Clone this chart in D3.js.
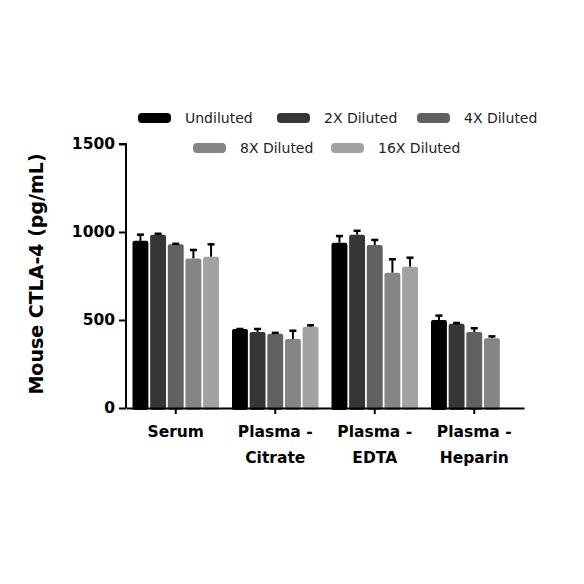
<!DOCTYPE html>
<html>
<head>
<meta charset="utf-8">
<script src="https://cdn.jsdelivr.net/npm/d3@7"></script>
<style>
  body { margin: 0; background: #fff; }
  text { font-family: "DejaVu Sans", sans-serif; }
</style>
</head>
<body>
<script>
// chart size
var width = 584;
var height = 584;

// data
var categories = ["Serum", "Plasma - Citrate", "Plasma - EDTA", "Plasma - Heparin"];
var series = ["Undiluted", "2X Diluted", "4X Diluted", "8X Diluted", "16X Diluted"];
var colors = ["#000000", "#363636", "#616161", "#858585", "#a2a2a2"];
// mean values per category, one array per series (null = no bar)
var undiluted = [950, 449, 939, 500];
var diluted2x = [985, 432, 985, 479];
var diluted4x = [930, 422, 926, 432];
var diluted8x = [850, 392, 769, 396];
var diluted16x = [860, 462, 803, null];
// top of error bar per category
var err_undiluted = [985, 449, 977, 525];
var err_2x = [990, 449, 1007, 483];
var err_4x = [933, 427, 955, 453];
var err_8x = [898, 439, 845, 407];
var err_16x = [930, 470, 854, null];
var yTicks = [0, 500, 1000, 1500];

var values = [undiluted, diluted2x, diluted4x, diluted8x, diluted16x];
var errors = [err_undiluted, err_2x, err_4x, err_8x, err_16x];

var rows = [];
series.forEach(function(s, i) {
	categories.forEach(function(c, j) {
		if (values[i][j] != null)
			rows.push({ series: s, si: i, cat: c, value: values[i][j], err: errors[i][j] });
	});
});

var svg = d3.select("body")
			.append("svg")
			.attr("width", width)
			.attr("height", height);

// scales
var x0 = d3.scaleBand()
		   .domain(categories)
		   .range([126, 524])
		   .paddingInner(0)
		   .paddingOuter(0);

var x1 = d3.scaleBand()
		   .domain(series)
		   .range([0, 86.5])
		   .paddingInner(0.1);

var y = d3.scaleLinear()
		  .domain([0, 1500])
		  .range([408, 144]);

var groupOffset = (x0.bandwidth() - 86.5) / 2;

// bars
svg.append("g")
	.selectAll("rect")
	.data(rows)
	.enter()
	.append("rect")
	.attr("x", function(d) { return x0(d.cat) + groupOffset + x1(d.series); })
	.attr("y", function(d) { return y(d.value); })
	.attr("width", x1.bandwidth())
	.attr("height", function(d) { return y(0) - y(d.value) + 2; })
	.attr("rx", 2)
	.style("fill", function(d) { return colors[d.si]; });

// error bars (upper only)
var eb = svg.append("g")
	.selectAll("g")
	.data(rows)
	.enter()
	.append("g")
	.attr("transform", function(d) {
		return "translate(" + (x0(d.cat) + groupOffset + x1(d.series) + x1.bandwidth() / 2) + ",0)";
	});

eb.append("line")
	.attr("y1", function(d) { return y(d.value); })
	.attr("y2", function(d) { return y(d.err); })
	.style("stroke", "#000")
	.style("stroke-width", 2);

eb.append("line")
	.attr("x1", -3.5)
	.attr("x2", 3.5)
	.attr("y1", function(d) { return y(d.err); })
	.attr("y2", function(d) { return y(d.err); })
	.style("stroke", "#000")
	.style("stroke-width", 2.5);

// y axis
var yAxis = svg.append("g")
	.attr("transform", "translate(126,0)")
	.call(d3.axisLeft(y).tickValues(yTicks).tickSize(7).tickPadding(4).tickFormat(d3.format("d")));

yAxis.select(".domain").style("stroke-width", 2).attr("d", "M-7," + y(1500) + "H0V" + y(0));
yAxis.selectAll(".tick line").style("stroke-width", 2);
yAxis.selectAll(".tick text")
	.style("font-size", "15.5px")
	.style("font-weight", "bold")
	.style("fill", "#000");

// x axis
var xAxis = svg.append("g")
	.attr("transform", "translate(0," + y(0) + ")")
	.call(d3.axisBottom(x0).tickSize(6).tickSizeOuter(0).tickFormat(""));

xAxis.select(".domain").style("stroke-width", 2);
xAxis.selectAll(".tick line").style("stroke-width", 2);

// category labels, two lines
var catLabels = svg.append("g")
	.selectAll("text")
	.data(categories)
	.enter()
	.append("text")
	.attr("text-anchor", "middle")
	.attr("x", function(d) { return x0(d) + x0.bandwidth() / 2; })
	.attr("y", 437)
	.style("font-size", "15.5px")
	.style("font-weight", "bold");

catLabels.each(function(d) {
	var parts = d.indexOf(" - ") > 0 ? [d.split(" - ")[0] + " -", d.split(" - ")[1]] : [d];
	d3.select(this).selectAll("tspan")
		.data(parts)
		.enter()
		.append("tspan")
		.attr("x", x0(d) + x0.bandwidth() / 2)
		.attr("dy", function(p, i) { return i == 0 ? 0 : 26; })
		.text(function(p) { return p; });
});

// y axis title
svg.append("text")
	.attr("transform", "translate(43,274) rotate(-90)")
	.attr("text-anchor", "middle")
	.style("font-size", "19px")
	.style("font-weight", "bold")
	.text("Mouse CTLA-4 (pg/mL)");

// legend
var legendPos = [[138, 118], [277, 118], [417, 118], [193, 148], [331, 148]];

var legend = svg.append("g")
	.selectAll("g")
	.data(series)
	.enter()
	.append("g")
	.attr("transform", function(d, i) { return "translate(" + legendPos[i][0] + "," + legendPos[i][1] + ")"; });

legend.append("rect")
	.attr("x", 0)
	.attr("y", -5)
	.attr("width", 33)
	.attr("height", 10)
	.attr("rx", 4)
	.style("fill", function(d, i) { return colors[i]; });

legend.append("text")
	.attr("x", 47)
	.attr("y", 5)
	.style("font-size", "14px")
	.style("fill", "#222")
	.text(function(d) { return d; });
</script>
</body>
</html>
